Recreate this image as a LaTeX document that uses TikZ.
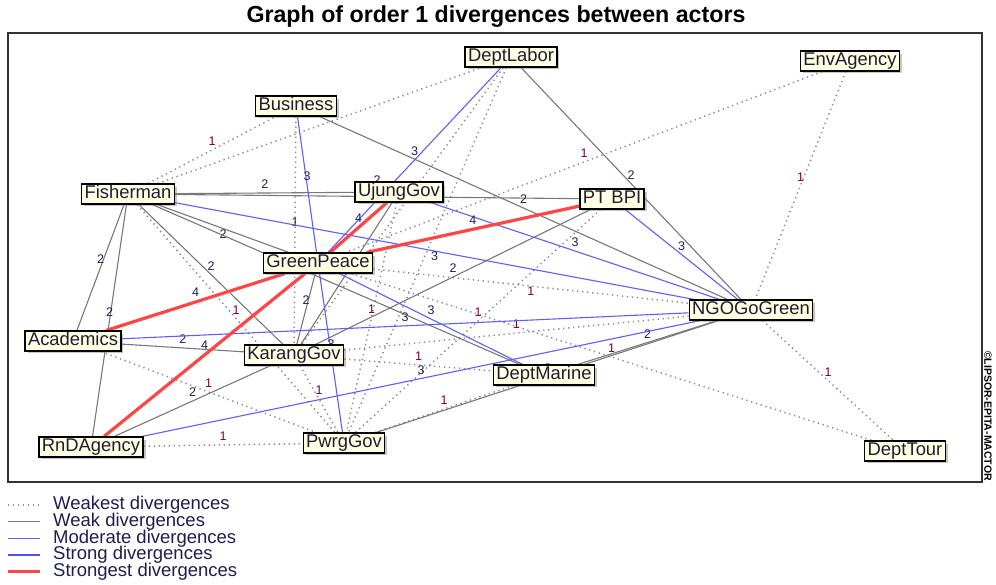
\documentclass[tikz,border=0pt]{standalone}
\usepackage{fontspec}
\setmainfont{Liberation Sans}
\usetikzlibrary{shadows}
\pgfdeclarelayer{back}
\pgfdeclarelayer{edges}
\pgfsetlayers{back,edges,main}
\definecolor{tipfill}{RGB}{255,255,225}
\definecolor{actorink}{RGB}{35,25,55}
\definecolor{weakgray}{RGB}{120,120,120}
\definecolor{dotgray}{RGB}{140,140,140}
\definecolor{modblue}{RGB}{95,95,255}
\definecolor{strongblue}{RGB}{80,80,255}
\definecolor{hotred}{RGB}{255,70,70}
\definecolor{lblnavy}{RGB}{30,30,80}
\definecolor{lblmaroon}{RGB}{120,0,50}
\tikzset{
  actor/.style={draw, line width=1.3pt, fill=tipfill, text=actorink,
    font=\fontsize{18.4}{20}\selectfont, inner xsep=3pt, inner ysep=1.2pt,
    text height=13.5pt, text depth=4pt,
    drop shadow={shadow xshift=2.5pt, shadow yshift=-2.5pt, fill=black!45}},
  weakest/.style={dotgray, line width=1.5pt, dash pattern=on 1.3pt off 3.7pt},
  weak/.style={weakgray, line width=1.1pt},
  moderate/.style={modblue, line width=1.1pt},
  strong/.style={strongblue, line width=2.6pt},
  strongest/.style={hotred, line width=3.2pt},
  lbl/.style={midway, above=3pt, inner sep=0.5pt, text=lblnavy, font=\fontsize{12.5}{13}\selectfont},
  lbla/.style={lbl, text=lblmaroon},
  legendtext/.style={anchor=west, inner sep=0pt, text=lblnavy, font=\fontsize{18.5}{19}\selectfont},
}
\begin{document}
\begin{tikzpicture}[x=1pt, y=-1pt]
\useasboundingbox (0,0) rectangle (996,584);
\begin{pgfonlayer}{back}
\fill[white] (0,0) rectangle (996,584);
\end{pgfonlayer}
% title and frame
\node[font=\fontsize{23.2}{25}\selectfont\bfseries] (title) at (496,17) {Graph of order 1 divergences between actors};
\draw[line width=1.5pt, black!80] (8,33) rectangle (982,482);
\node[rotate=-90, font=\fontsize{10.5}{12}\selectfont\bfseries] (copy) at (988,416) {©LIPSOR-EPITA-MACTOR};
% actors
\node[actor] (deptlabor) at (511,57) {DeptLabor};
\node[actor] (envagency) at (850,61) {EnvAgency};
\node[actor] (business) at (296,106) {Business};
\node[actor] (fisher) at (128,194) {Fisherman};
\node[actor] (ujung) at (399,192) {UjungGov};
\node[actor] (ptbpi) at (612,199) {PT BPI};
\node[actor] (greenpeace) at (318,263) {GreenPeace};
\node[actor] (ngo) at (751,310) {NGOGoGreen};
\node[actor] (academics) at (73,341) {Academics};
\node[actor] (karang) at (294,355) {KarangGov};
\node[actor] (deptmarine) at (544,375) {DeptMarine};
\node[actor] (rnd) at (91,447) {RnDAgency};
\node[actor] (pwrg) at (344,443) {PwrgGov};
\node[actor] (depttour) at (905,451) {DeptTour};
\begin{pgfonlayer}{edges}
% weakest divergences
\draw[weakest] (fisher) -- node[lbla]{1} (business);
\draw[weakest] (fisher) -- (deptlabor);
\draw[weakest] (business) -- node[lbla]{1} (karang);
\draw[weakest] (envagency) -- node[lbla]{1} (greenpeace);
\draw[weakest] (envagency) -- node[lbla]{1} (ngo);
\draw[weakest] (ngo) -- node[lbla]{1} (depttour);
\draw[weakest] (greenpeace) -- node[lbla]{1} (depttour);
\draw[weakest] (greenpeace) -- node[lbla, above=0pt, below=3pt]{1} (ngo);
\draw[weakest] (karang) -- node[lbla]{1} (ngo);
\draw[weakest] (fisher) -- node[lbla]{1} (pwrg);
\draw[weakest] (academics) -- node[lbla]{1} (pwrg);
\draw[weakest] (rnd) -- node[lbla]{1} (pwrg);
\draw[weakest] (pwrg) -- node[lbla]{1} (ptbpi);
\draw[weakest] (ujung) -- node[lbla]{1} (pwrg);
\draw[weakest] (karang) -- node[lbla]{1} (pwrg);
\draw[weakest] (karang) -- node[lbla]{1} (deptmarine);
\draw[weakest] (pwrg) -- node[lbla]{1} (deptmarine);
\draw[weakest] (deptlabor) -- (karang);
\draw[weakest] (deptlabor) -- (pwrg);
% weak divergences
\draw[weak] (fisher) -- node[lbl]{2} (academics);
\draw[weak] (fisher) -- node[lbl]{2} (rnd);
\draw[weak] (fisher) -- node[lbl]{2} (ujung);
\draw[weak] (fisher) -- node[lbl, above=8pt]{2} (ptbpi);
\draw[weak] (fisher) -- node[lbl, above=0pt, below=3pt]{2} (greenpeace);
\draw[weak] (fisher) -- (deptmarine);
\draw[weak] (fisher) -- node[lbl]{2} (karang);
\draw[weak] (business) -- node[lbl]{2} (ngo);
\draw[weak] (deptlabor) -- node[lbl]{2} (ngo);
\draw[weak] (ujung) -- node[lbl]{2} (karang);
\draw[weak] (greenpeace) -- node[lbl]{2} (karang);
\draw[weak] (ptbpi) -- node[lbl]{2} (karang);
\draw[weak] (academics) -- node[lbl]{2} (karang);
\draw[weak] (rnd) -- node[lbl]{2} (karang);
\draw[weak] (pwrg) -- node[lbl]{2} (ngo);
\draw[weak] (deptmarine) -- node[lbl]{2} (ngo);
% moderate divergences
\draw[moderate] (deptlabor) -- node[lbl]{3} (greenpeace);
\draw[moderate] (business) -- node[lbl]{3} (greenpeace);
\draw[moderate] (greenpeace) -- node[lbl]{3} (pwrg);
\draw[moderate] (fisher) -- node[lbl, above=0pt, below=3pt]{3} (ngo);
\draw[moderate] (ujung) -- node[lbl]{3} (ngo);
\draw[moderate] (ptbpi) -- node[lbl]{3} (ngo);
\draw[moderate] (greenpeace) -- node[lbl]{3} (deptmarine);
\draw[moderate] (academics) -- node[lbl]{3} (ngo);
\draw[moderate] (rnd) -- node[lbl]{3} (ngo);
% strongest divergences
\draw[strongest] (academics) -- node[lbl]{4} (greenpeace);
\draw[strongest] (rnd) -- node[lbl]{4} (greenpeace);
\draw[strongest] (greenpeace) -- node[lbl]{4} (ujung);
\draw[strongest] (greenpeace) -- node[lbl]{4} (ptbpi);
\end{pgfonlayer}
% legend
\foreach \st/\txt [count=\i] in {weakest/Weakest, weak/Weak, moderate/Moderate, strong/Strong, strongest/Strongest}{
  \draw[\st] (8,488+16.75*\i) -- (40,488+16.75*\i);
  \node[legendtext] (leg\i) at (53,488+16.75*\i) {\txt\ divergences};
}
\end{tikzpicture}
\end{document}
